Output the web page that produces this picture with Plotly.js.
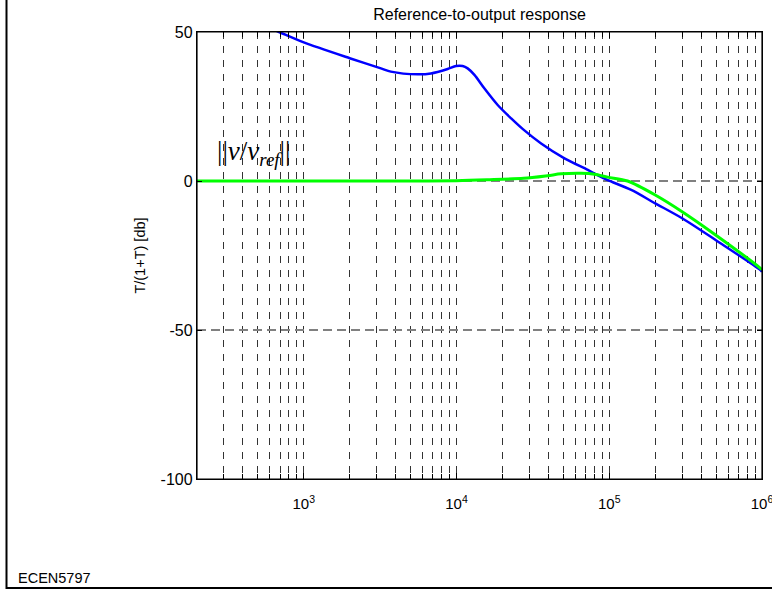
<!DOCTYPE html>
<html>
<head>
<meta charset="utf-8">
<script src="https://cdn.plot.ly/plotly-3.0.1.min.js"></script>
<style>html,body{margin:0;padding:0;background:#fff;}#chart{width:772px;height:590px;}</style>
</head>
<body>
<div id="chart"></div>
<script>
// Loop gain T (blue), dB vs Hz
const freqLoop = [200, 689, 1000, 2000, 3200, 3715, 5570, 6800, 8750, 9930, 10960, 11830, 13100, 15200, 18600, 22800, 27200, 35800, 50900, 72400, 84300, 97700, 139300, 200000, 300000, 497000, 977000, 1000000];
const magLoop  = [62, 50, 46.5, 41.2, 37.8, 36.7, 35.8, 36.1, 37.6, 38.6, 38.6, 37.8, 35.6, 31.1, 25.5, 21.0, 17.4, 12.6, 7.6, 3.7, 1.9, 0.3, -3.0, -7.5, -12.5, -19.8, -29.9, -30.5];

// Closed loop T/(1+T) (green), dB vs Hz
const freqClosed = [200, 1000, 5000, 10000, 15800, 27500, 39600, 48400, 65500, 80200, 97700, 131800, 200000, 300000, 497000, 977000, 1000000];
const magClosed  = [0, 0, 0, 0.1, 0.4, 0.9, 1.8, 2.4, 2.6, 2.3, 1.3, 0.0, -4.7, -10.3, -18.1, -29.3, -29.8];

// Axis ticks
const xTickVals = [1e3, 1e4, 1e5, 1e6];
const xTickText = ['10<sup>3</sup>', '10<sup>4</sup>', '10<sup>5</sup>', '10<sup>6</sup>'];
const xMinorVals = [300, 400, 500, 600, 700, 800, 900,
                    2000, 3000, 4000, 5000, 6000, 7000, 8000, 9000,
                    20000, 30000, 40000, 50000, 60000, 70000, 80000, 90000,
                    200000, 300000, 400000, 500000, 600000, 700000, 800000, 900000];
const yTickVals = [-100, -50, 0, 50];
const yTickText = ['-100', '-50', '0', '50'];

const traces = [
  {x: freqLoop, y: magLoop, type: 'scatter', mode: 'lines',
   line: {color: '#0000ff', width: 2.5, shape: 'spline', smoothing: 0.8}, hoverinfo: 'skip'},
  {x: freqClosed, y: magClosed, type: 'scatter', mode: 'lines',
   line: {color: '#00ff00', width: 3, shape: 'spline', smoothing: 0.8}, hoverinfo: 'skip'}
];

const F = 'Liberation Sans, Arial, sans-serif';

const layout = {
  width: 772, height: 590,
  margin: {l: 197, r: 10, t: 32, b: 111},
  paper_bgcolor: '#ffffff', plot_bgcolor: '#ffffff',
  showlegend: false,
  font: {family: F, size: 14, color: '#000'},
  title: {text: 'Reference-to-output response', font: {family: F, size: 16, color: '#000'},
          x: 0.5, xref: 'paper', xanchor: 'center', y: 1 - 14/590, yref: 'container', yanchor: 'middle'},
  xaxis: {
    type: 'log', range: [Math.log10(200), 6],
    tickmode: 'array', tickvals: xTickVals, ticktext: xTickText,
    ticks: 'inside', ticklen: 6, tickcolor: '#000', tickwidth: 1,
    showline: true, linecolor: '#000', linewidth: 1.2, mirror: 'allticks',
    showgrid: true, gridcolor: '#333', gridwidth: 1, griddash: '7px,7px',
    minor: {tickmode: 'array', tickvals: xMinorVals, ticks: 'inside', ticklen: 5, tickcolor: '#000',
            showgrid: true, gridcolor: '#333', gridwidth: 1, griddash: '7px,7px'},
    zeroline: false, ticklabelstandoff: 11, ticklabeloverflow: 'allow',
    tickfont: {family: F, size: 15, color: '#000'}
  },
  yaxis: {
    range: [-100, 50],
    tickmode: 'array', tickvals: yTickVals, ticktext: yTickText,
    ticks: 'inside', ticklen: 5, tickcolor: '#000',
    showline: true, linecolor: '#000', linewidth: 1.2, mirror: 'allticks',
    showgrid: true, gridcolor: '#808080', gridwidth: 1.3, griddash: '9px,5px',
    zeroline: false,
    tickfont: {family: F, size: 16, color: '#000'},
    title: {text: 'T/(1+T) [db]', font: {family: F, size: 14.5, color: '#000'}, standoff: 11}
  },
  annotations: [
    {xref: 'x', yref: 'y', x: 2.42, y: 9.5, xanchor: 'left', yanchor: 'middle', showarrow: false,
     text: '||<i>v</i>/<i>v</i><sub><i>ref</i></sub>||',
     font: {family: 'Liberation Serif, Times New Roman, serif', size: 27, color: '#000'}},
    {xref: 'paper', yref: 'paper', x: (16 - 197) / 565, y: (479 - 578) / 447,
     xanchor: 'left', yanchor: 'middle', showarrow: false, text: 'ECEN5797',
     font: {family: F, size: 14.5, color: '#000'}}
  ],
  shapes: [
    {type: 'rect', xref: 'paper', yref: 'paper', x0: 0, x1: 1, y0: 0, y1: 1,
     line: {color: '#000', width: 1.2}, fillcolor: 'rgba(0,0,0,0)', layer: 'above'},
    {type: 'rect', xref: 'paper', yref: 'paper',
     x0: (6.5 - 197) / 565, x1: 1.1, y0: (479 - 588) / 447, y1: 1.2,
     line: {color: '#000', width: 2}, fillcolor: 'rgba(0,0,0,0)', layer: 'above'}
  ]
};

Plotly.newPlot('chart', traces, layout, {displayModeBar: false, staticPlot: true});
</script>
</body>
</html>
